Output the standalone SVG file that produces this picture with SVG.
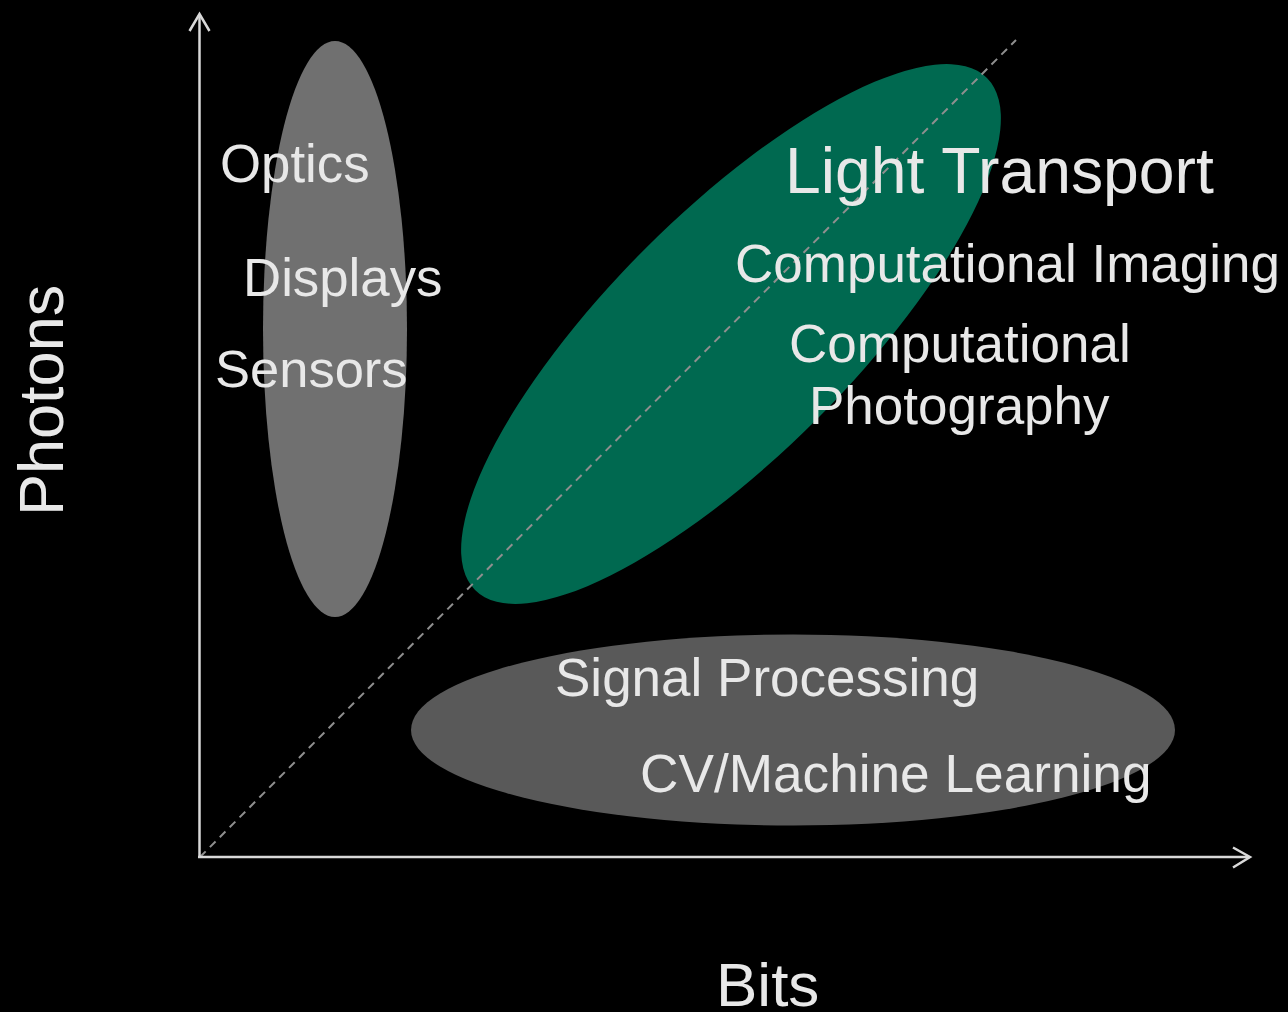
<svg xmlns="http://www.w3.org/2000/svg" width="1288" height="1012" viewBox="0 0 1288 1012">
<style>
.t{font-family:"Liberation Sans",Arial,sans-serif;fill:#e8e8e8;}
.ax{stroke:#d9d9d9;stroke-width:2.5;fill:none;}
</style>
<rect x="0" y="0" width="1288" height="1012" fill="#000"/>
<g id="node-hardware">
<ellipse cx="335" cy="329" rx="72" ry="288" fill="#707070"/>
</g>
<g id="node-computational">
<ellipse cx="731" cy="334" rx="362" ry="121" transform="rotate(-45 731 334)" fill="#006950"/>
</g>
<g id="node-software">
<ellipse cx="793" cy="730" rx="382" ry="95.5" fill="#595959"/>
</g>
<g id="connectors">
<line x1="200" y1="857" x2="1016" y2="40" stroke="#8f8f8f" stroke-width="2" stroke-dasharray="8,6"/>
<line class="ax" x1="199.5" y1="857" x2="199.5" y2="14"/>
<line class="ax" x1="198" y1="857" x2="1249" y2="857"/>
<polyline class="ax" points="189.5,31 199.5,14 209.5,31"/>
<polyline class="ax" points="1233,847.5 1250,857 1233,867.5"/>
</g>
<g id="labels-hardware">
<text class="t" x="220" y="182" font-size="52.8">Optics</text>
<text class="t" x="243" y="296" font-size="52.8">Displays</text>
<text class="t" x="215" y="387" font-size="52.5">Sensors</text>
</g>
<g id="labels-computational">
<text class="t" x="785" y="193" font-size="64.3">Light Transport</text>
<text class="t" x="735" y="282" font-size="53">Computational Imaging</text>
<text class="t" x="789" y="362" font-size="53">Computational</text>
<text class="t" x="809" y="424" font-size="53">Photography</text>
</g>
<g id="labels-software">
<text class="t" x="555" y="696" font-size="53">Signal Processing</text>
<text class="t" x="640" y="792" font-size="53.2">CV/Machine Learning</text>
</g>
<g id="axis-labels">
<text class="t" x="716" y="1006" font-size="62">Bits</text>
<text class="t" x="63" y="516" font-size="63" transform="rotate(-90 63 516)">Photons</text>
</g>
</svg>
